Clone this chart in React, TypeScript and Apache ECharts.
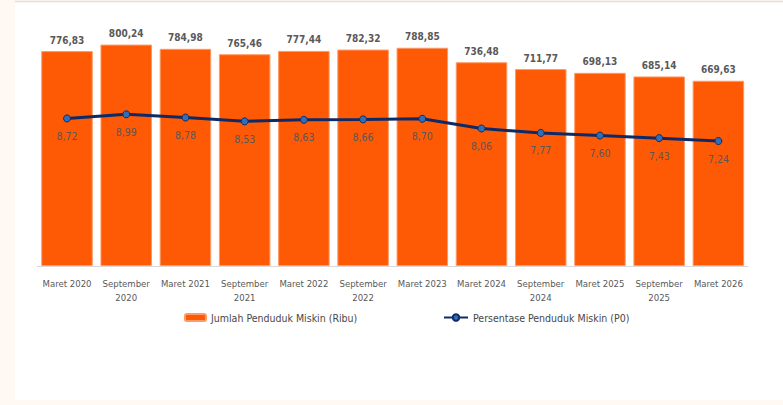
import React, { useEffect, useRef } from "react";
import * as echarts from "echarts";

const categories = [
  "Maret 2020",
  "September\n2020",
  "Maret 2021",
  "September\n2021",
  "Maret 2022",
  "September\n2022",
  "Maret 2023",
  "Maret 2024",
  "September\n2024",
  "Maret 2025",
  "September\n2025",
  "Maret 2026",
];

const jumlahPenduduk = [776.83, 800.24, 784.98, 765.46, 777.44, 782.32, 788.85, 736.48, 711.77, 698.13, 685.14, 669.63];
const persentase = [8.72, 8.99, 8.78, 8.53, 8.63, 8.66, 8.7, 8.06, 7.77, 7.6, 7.43, 7.24];

const barName = "Jumlah Penduduk Miskin (Ribu)";
const lineName = "Persentase Penduduk Miskin (P0)";

const FONT = "'DejaVu Sans Condensed', 'Roboto Condensed', Roboto, sans-serif";
const fmt = (v: number) => v.toFixed(2).replace(".", ",");

export default function App() {
  const ref = useRef<HTMLDivElement>(null);
  useEffect(() => {
    document.body.style.margin = "0";
    const chart = echarts.init(ref.current!, null, { renderer: "svg" });
    chart.setOption({
      animation: false,
      backgroundColor: "#fff8f3",
      textStyle: { fontFamily: FONT },
      graphic: [
        { type: "rect", z: -10, shape: { x: 15, y: 2, width: 768, height: 398 }, style: { fill: "#ffffff" } },
        { type: "line", z: -9, shape: { x1: 15, y1: 1.5, x2: 783, y2: 1.5 }, style: { stroke: "#e6dcdc", lineWidth: 1.5 } },
      ],
      grid: { left: 37.4, right: 35, top: 17, bottom: 139 },
      legend: [
        {
          data: [{ name: barName }],
          left: 184,
          top: 312,
          padding: 0,
          itemWidth: 21,
          itemHeight: 7,
          textStyle: { color: "#474747", fontSize: 10.5, fontFamily: FONT },
        },
        {
          data: [{ name: lineName }],
          left: 443,
          top: 312,
          padding: 0,
          itemWidth: 24,
          itemHeight: 8,
          textStyle: { color: "#474747", fontSize: 10.5, fontFamily: FONT },
        },
      ],
      xAxis: {
        type: "category",
        data: categories,
        axisLine: { lineStyle: { color: "#d9d9d9", width: 1 } },
        axisTick: { show: false },
        axisLabel: { color: "#595959", fontSize: 9.5, lineHeight: 14, margin: 10, interval: 0, fontFamily: FONT },
      },
      yAxis: [
        { type: "value", min: 0, max: 900, show: false, splitLine: { show: false } },
        { type: "value", min: -0.95, max: 15.37, show: false, splitLine: { show: false } },
      ],
      series: [
        {
          name: barName,
          type: "bar",
          data: jumlahPenduduk,
          barCategoryGap: "13%",
          itemStyle: { color: "#fe5a06", borderColor: "#fd9a66", borderWidth: 1 },
          label: {
            show: true,
            position: "top",
            distance: 6,
            color: "#595959",
            fontSize: 10,
            fontWeight: "bold",
            fontFamily: FONT,
            formatter: (p: any) => fmt(p.value),
          },
        },
        {
          name: lineName,
          type: "line",
          yAxisIndex: 1,
          data: persentase,
          symbol: "circle",
          symbolSize: 7,
          lineStyle: { color: "#0e2a66", width: 3 },
          itemStyle: { color: "#2f6eb8", borderColor: "#0e2a66", borderWidth: 1 },
          label: {
            show: true,
            position: "bottom",
            distance: 8,
            color: "#585858",
            fontSize: 10.5,
            fontFamily: FONT,
            formatter: (p: any) => fmt(p.value),
          },
          z: 5,
        },
      ],
    });
    return () => chart.dispose();
  }, []);
  return <div ref={ref} style={{ position: "absolute", left: 0, top: 0, width: 783, height: 405 }} />;
}
